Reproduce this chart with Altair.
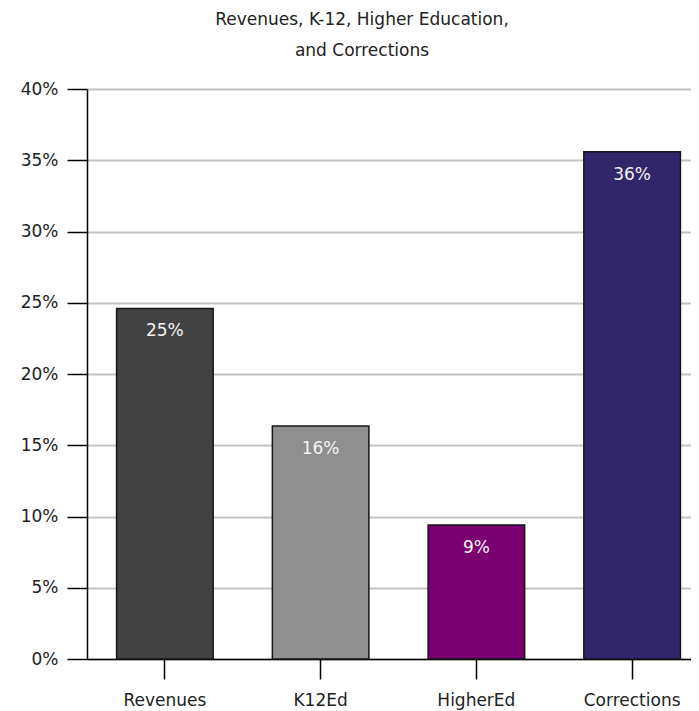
import altair as alt
import pandas as pd

categories = ["Revenues", "K12Ed", "HigherEd", "Corrections"]
values = [24.6, 16.35, 9.4, 35.6]
labels = ["25%", "16%", "9%", "36%"]
colors = ["#424242", "#8f8f8f", "#7a0072", "#31266a"]

df = pd.DataFrame({"cat": categories, "val": values, "lab": labels, "col": colors})

FONT = "DejaVu Sans"
FS = 17

x = alt.X("cat:N", sort=categories, title=None,
          scale=alt.Scale(range=[0, 623], paddingInner=0.38, paddingOuter=0.19),
          axis=alt.Axis(labelAngle=0, labelFont=FONT, labelFontSize=FS, labelColor="#222222",
                        tickSize=20, tickColor="#000000", tickWidth=1.5,
                        domainColor="#000000", domainWidth=1.5, labelPadding=13, grid=False))
y = alt.Y("val:Q", title=None,
          scale=alt.Scale(domain=[0, 40], nice=False),
          axis=alt.Axis(values=[0, 5, 10, 15, 20, 25, 30, 35, 40],
                        labelExpr="datum.value + '%'",
                        labelFont=FONT, labelFontSize=FS, labelColor="#222222",
                        tickSize=20, tickColor="#000000", tickWidth=1.5,
                        domainColor="#000000", domainWidth=1.5, labelPadding=9,
                        grid=True, gridColor="#c4c4c4", gridWidth=2))

bars = alt.Chart(df).mark_bar(stroke="#151515", strokeWidth=1.5).encode(
    x=x, y=y, color=alt.Color("col:N", scale=None)
)
text = alt.Chart(df).mark_text(color="#f4f4f4", font=FONT, fontSize=FS, baseline="middle", dy=23).encode(
    x=alt.X("cat:N", sort=categories), y=alt.Y("val:Q"), text="lab:N"
)

chart = alt.layer(bars, text).properties(
    width=604, height=570,
    autosize=alt.AutoSizeParams(type="none"),
    padding={"left": 79, "top": 81, "right": 0, "bottom": 56},
    title=alt.TitleParams(["Revenues, K-12, Higher Education,", "and Corrections"],
                          font=FONT, fontSize=FS, fontWeight="normal", color="#222222",
                          lineHeight=31, anchor="middle", dx=-27, offset=20),
).configure_view(stroke=None)

chart.save("out.html", embed_options={"renderer": "svg", "actions": False})
